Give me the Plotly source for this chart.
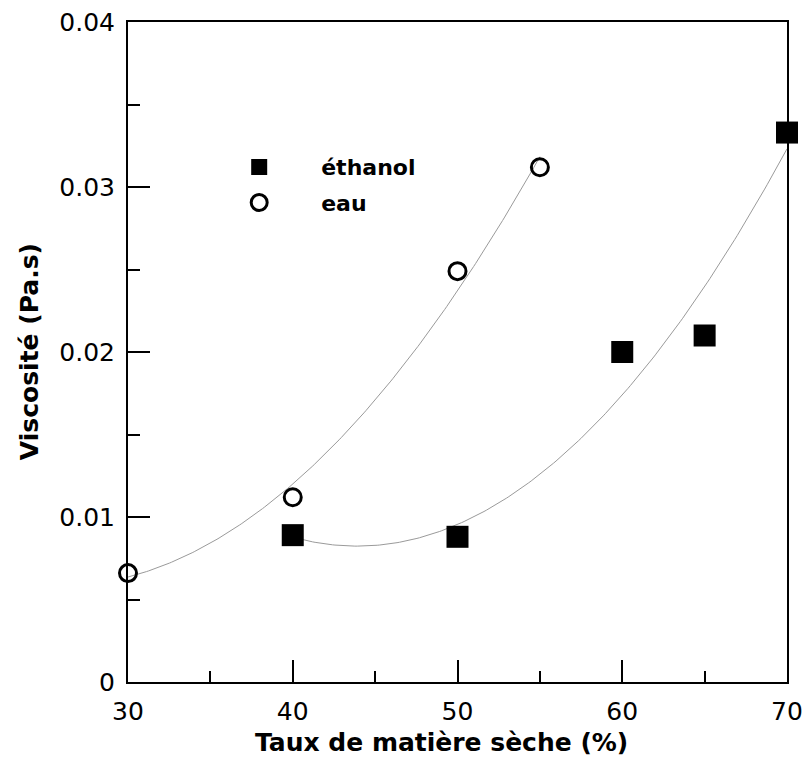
import numpy as np
import plotly.graph_objects as go

# Data
x_eau = [30, 40, 50, 55]
y_eau = [0.0066, 0.0112, 0.0249, 0.0312]
x_eth = [40, 50, 60, 65, 70]
y_eth = [0.0089, 0.0088, 0.0200, 0.0210, 0.0333]

x_ticks = [30, 40, 50, 60, 70]
x_ticklabels = ["30", "40", "50", "60", "70"]
y_ticks = [0, 0.01, 0.02, 0.03, 0.04]
y_ticklabels = ["0", "0.01", "0.02", "0.03", "0.04"]

x_title = "Taux de matière sèche (%)"
y_title = "Viscosité (Pa.s)"

# quadratic trend lines fitted to the data
c_eau = np.polyfit(x_eau, y_eau, 2)
c_eth = np.polyfit(x_eth, y_eth, 2)
xf_eau = np.linspace(min(x_eau), max(x_eau), 200)
xf_eth = np.linspace(min(x_eth), max(x_eth), 200)

FONT = "DejaVu Sans"

fig = go.Figure()
fig.add_trace(go.Scatter(x=xf_eau, y=np.polyval(c_eau, xf_eau), mode="lines",
                         line=dict(color="#9a9a9a", width=1), showlegend=False, hoverinfo="skip"))
fig.add_trace(go.Scatter(x=xf_eth, y=np.polyval(c_eth, xf_eth), mode="lines",
                         line=dict(color="#9a9a9a", width=1), showlegend=False, hoverinfo="skip"))
fig.add_trace(go.Scatter(x=x_eth, y=y_eth, mode="markers", name="éthanol", legendgroup="a",
                         marker=dict(symbol="square", size=22, color="black"),
                         cliponaxis=False))
fig.add_trace(go.Scatter(x=x_eau, y=y_eau, mode="markers", name="eau", legendgroup="b",
                         marker=dict(symbol="circle-open", size=17, color="black",
                                     line=dict(width=3, color="black")),
                         cliponaxis=False))

axis_common = dict(showgrid=False, zeroline=False, showline=True, linecolor="black",
                   linewidth=2, mirror=True, ticks="inside", tickwidth=2, ticklen=22,
                   tickcolor="black", automargin=False, ticklabeloverflow="allow",
                   tickfont=dict(family=FONT, size=25, color="black"))

fig.update_xaxes(range=[30, 70], tickvals=x_ticks, ticktext=x_ticklabels,
                 minor=dict(ticks="inside", ticklen=11, tickwidth=2, tickcolor="black", dtick=5),
                 ticklabelstandoff=6, **axis_common)
fig.update_yaxes(range=[0, 0.04], tickvals=y_ticks, ticktext=y_ticklabels,
                 minor=dict(ticks="inside", ticklen=12, tickwidth=2, tickcolor="black", dtick=0.005),
                 ticklabelstandoff=6, **axis_common)

fig.add_annotation(text="<b>" + x_title + "</b>", xref="paper", yref="paper",
                   x=0.475, y=-0.091, xanchor="center", yanchor="middle", showarrow=False,
                   font=dict(family=FONT, size=25, color="black"))
fig.add_annotation(text="<b>" + y_title + "</b>", xref="paper", yref="paper",
                   x=-0.149, y=0.501, xanchor="center", yanchor="middle", showarrow=False,
                   textangle=-90, font=dict(family=FONT, size=25, color="black"))

fig.update_layout(
    width=804, height=758,
    margin=dict(l=128, r=17, t=22, b=76),
    paper_bgcolor="white", plot_bgcolor="white",
    showlegend=True,
    legend=dict(x=0.105, y=0.812, xanchor="left", yanchor="top",
                bgcolor="rgba(0,0,0,0)", itemwidth=114,
                font=dict(family=FONT, size=22, color="black", weight="bold"),
                tracegroupgap=4),
)

# remove the default 8px page margin so the figure fills the window exactly
fig.write_html("out.html", config={"displayModeBar": False},
               post_script="document.body.style.margin='0';")
